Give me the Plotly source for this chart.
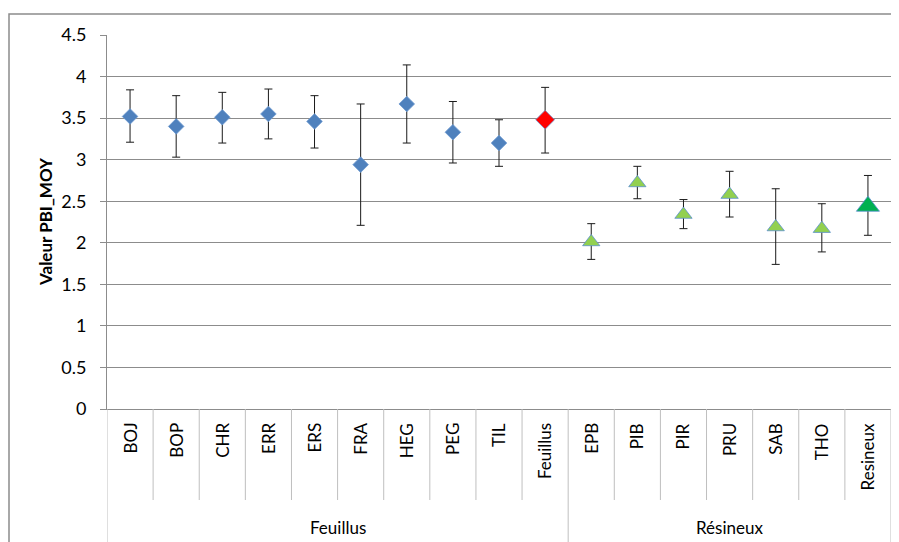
import plotly.graph_objects as go

categories = ["BOJ", "BOP", "CHR", "ERR", "ERS", "FRA", "HEG", "PEG", "TIL", "Feuillus",
              "EPB", "PIB", "PIR", "PRU", "SAB", "THO", "Resineux"]
means = [3.52, 3.40, 3.51, 3.55, 3.46, 2.94, 3.67, 3.33, 3.20, 3.48,
         2.01, 2.72, 2.34, 2.58, 2.19, 2.17, 2.44]
upper = [3.84, 3.77, 3.81, 3.85, 3.77, 3.67, 4.14, 3.70, 3.48, 3.87,
         2.23, 2.92, 2.52, 2.86, 2.65, 2.47, 2.81]
lower = [3.21, 3.03, 3.20, 3.25, 3.14, 2.21, 3.20, 2.96, 2.92, 3.08,
         1.80, 2.53, 2.17, 2.31, 1.74, 1.89, 2.09]
groups = ["Feuillus", "Résineux"]
group_sizes = [10, 7]
y_ticks = [0, 0.5, 1, 1.5, 2, 2.5, 3, 3.5, 4, 4.5]
y_tick_labels = ["0", "0.5", "1", "1.5", "2", "2.5", "3", "3.5", "4", "4.5"]

FONT = "Lato, 'Open Sans', sans-serif"
GRID = "#8c8c8c"
SEP = "#bfbfbf"

# page has an 8px body margin; plot area in window pixels: x 107..891, y 35..409
PW, PH = 784, 374

def subset(idx):
    return dict(
        x=[categories[i] for i in idx],
        y=[means[i] for i in idx],
        plus=[upper[i] - means[i] for i in idx],
        minus=[means[i] - lower[i] for i in idx],
    )

specs = [
    (list(range(0, 9)), "diamond", 12, "#4F81BD", "#6f9bd1", 0.8),
    ([9], "diamond", 14.5, "#FF0000", "#6f9bd1", 0.8),
    (list(range(10, 16)), "triangle-up", 15, "#92D050", "#5b8fd0", 0.8),
    ([16], "triangle-up", 20, "#00B050", "#5b8fd0", 0.8),
]

fig = go.Figure()
for idx, sym, size, col, lcol, lw in specs:
    s = subset(idx)
    fig.add_trace(go.Scatter(
        x=s["x"], y=s["y"], mode="markers",
        marker=dict(symbol=sym, size=size, color=col, line=dict(color=lcol, width=lw)),
        error_y=dict(type="data", symmetric=False, array=s["plus"], arrayminus=s["minus"],
                     color="#1a1a1a", thickness=1, width=4),
        showlegend=False, hoverinfo="x+y",
    ))

def py(pix):
    return (409 - pix) / PH

def px(pix):
    return (pix - 107) / PW

shapes = []
annotations = []
for i, c in enumerate(categories):
    annotations.append(dict(
        x=c, xref="x", y=py(421), yref="paper", text=c, textangle=-90,
        showarrow=False, xanchor="center", yanchor="top",
        font=dict(family=FONT, size=17, color="#000000"),
    ))
boundaries = [0]
for g in group_sizes:
    boundaries.append(boundaries[-1] + g)
for k in range(1, len(categories)):
    is_group = k in boundaries
    shapes.append(dict(
        type="line", xref="x", yref="paper", x0=k - 0.5, x1=k - 0.5,
        y0=0, y1=(py(545) if is_group else py(500)),
        line=dict(color=SEP, width=1),
    ))
for b in [0, len(categories)]:
    shapes.append(dict(
        type="line", xref="x", yref="paper", x0=b - 0.5, x1=b - 0.5,
        y0=0, y1=py(545), line=dict(color=SEP, width=1),
    ))
for gi, g in enumerate(groups):
    center = (boundaries[gi] + boundaries[gi + 1] - 1) / 2
    annotations.append(dict(
        x=center, xref="x", y=py(527), yref="paper", text=g,
        showarrow=False, xanchor="center", yanchor="middle",
        font=dict(family=FONT, size=17, color="#000000"),
    ))

annotations.append(dict(
    x=px(45), xref="paper", y=py(222), yref="paper", text="<b>Valeur PBI_MOY</b>",
    textangle=-90, showarrow=False, xanchor="center", yanchor="middle",
    font=dict(family=FONT, size=17, color="#000000"),
))

shapes.append(dict(
    type="rect", xref="paper", yref="paper",
    x0=px(9), x1=px(897), y0=py(560), y1=py(14),
    line=dict(color="#8c8c8c", width=1.5), fillcolor="rgba(0,0,0,0)", layer="below",
))

fig.update_layout(
    width=891, height=534,
    margin=dict(l=99, r=8, t=27, b=133),
    paper_bgcolor="white", plot_bgcolor="white",
    font=dict(family=FONT, size=16, color="#000000"),
    shapes=shapes, annotations=annotations,
    xaxis=dict(
        type="category", categoryorder="array", categoryarray=categories,
        range=[-0.5, len(categories) - 0.5], showticklabels=False,
        showgrid=False, zeroline=False, ticks="",
        showline=True, linecolor=GRID, linewidth=1,
    ),
    yaxis=dict(
        range=[0, 4.5], tickvals=y_ticks, ticktext=y_tick_labels,
        showgrid=True, gridcolor=GRID, gridwidth=1, zeroline=False,
        showline=True, linecolor=GRID, linewidth=1,
        ticks="outside", ticklen=6, tickcolor=GRID,
        ticklabelstandoff=10,
        tickfont=dict(family=FONT, size=18, color="#000000"),
    ),
)

fig.write_html("out.html")
